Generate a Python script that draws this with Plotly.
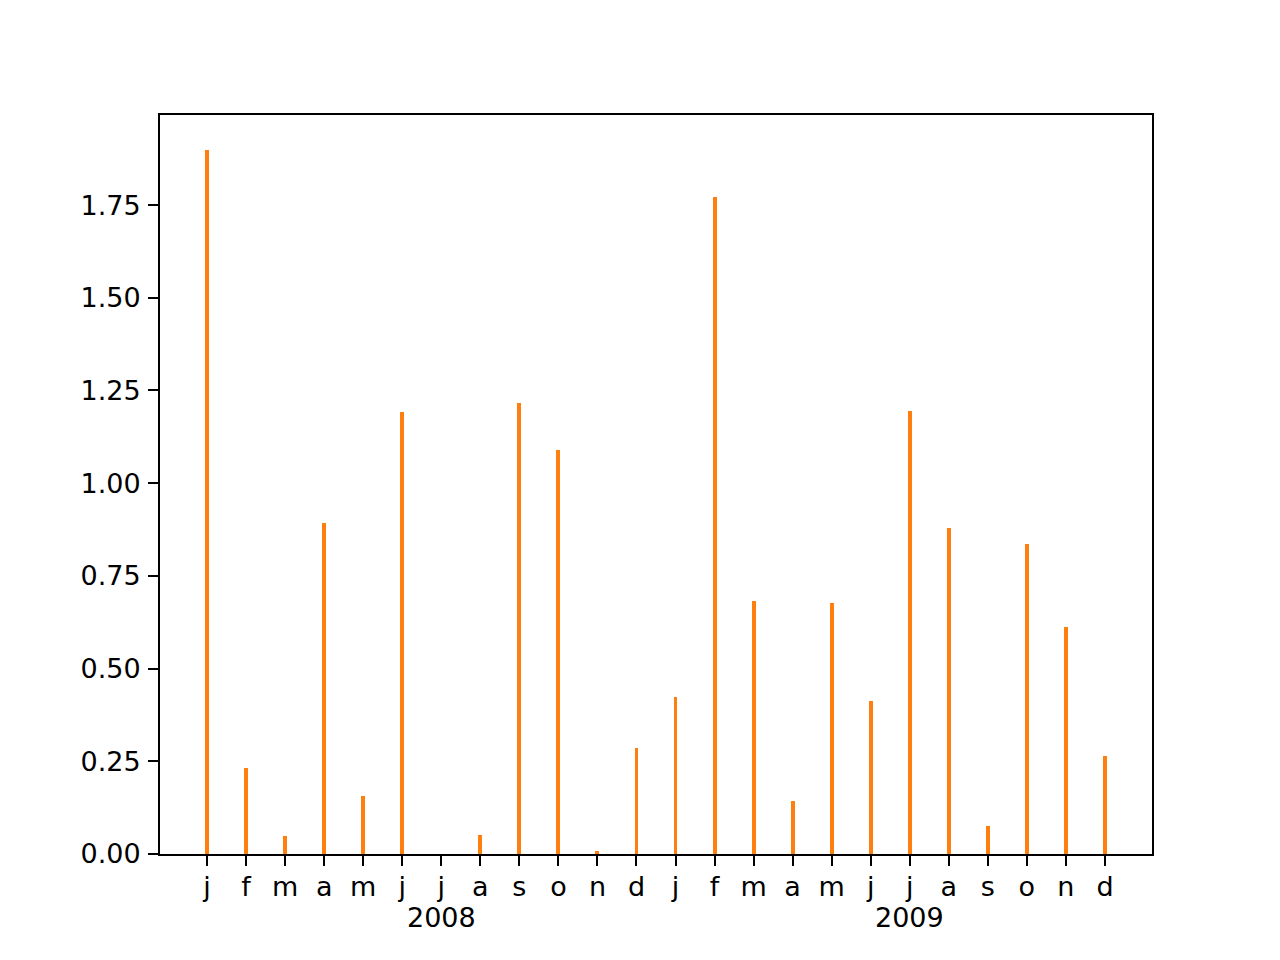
import plotly.graph_objects as go

months = ["j", "f", "m", "a", "m", "j", "j", "a", "s", "o", "n", "d",
          "j", "f", "m", "a", "m", "j", "j", "a", "s", "o", "n", "d"]
year_pos = [6, 18]
year_labels = ["2008", "2009"]
values = [1.898, 0.232, 0.048, 0.892, 0.156, 1.192, 0.0, 0.051, 1.216, 1.089, 0.008, 0.286,
          0.423, 1.772, 0.682, 0.143, 0.677, 0.413, 1.195, 0.879, 0.075, 0.836, 0.612, 0.264]

idx = list(range(len(values)))
bar_w = 0.1

fig = go.Figure(go.Bar(x=idx, y=values, width=bar_w, marker=dict(color="#ff7f0e", line=dict(width=0))))

lo, hi = -bar_w / 2, len(values) - 1 + bar_w / 2
pad = (hi - lo) * 0.05
ymax = max(values) * 1.05

font = dict(family="DejaVu Sans", size=27, color="black")
fig.update_layout(
    width=1272, height=952,
    margin=dict(l=152, r=128, t=107, b=106, pad=0),
    plot_bgcolor="white", paper_bgcolor="white",
    font=font, showlegend=False, bargap=0,
)
for pos, lab in zip(year_pos, year_labels):
    fig.add_annotation(x=pos, y=0, xref="x", yref="y", text=lab, showarrow=False,
                       yanchor="middle", xanchor="center", yshift=-63, font=font)

fig.update_xaxes(range=[lo - pad, hi + pad], tickmode="array", tickvals=idx, ticktext=months,
                 tickangle=0, automargin=False,
                 showgrid=False, zeroline=False, showline=True, linecolor="black", linewidth=2,
                 mirror=True, ticks="outside", ticklen=10, tickwidth=2, tickcolor="black",
                 ticklabelstandoff=-2, tickfont=font)
fig.update_yaxes(range=[0, ymax], tickmode="array", tickvals=[0, 0.25, 0.5, 0.75, 1.0, 1.25, 1.5, 1.75],
                 tickformat=".2f", automargin=False,
                 showgrid=False, zeroline=False, showline=True, linecolor="black",
                 linewidth=2, mirror=True, ticks="outside", ticklen=10, tickwidth=2, tickcolor="black",
                 ticklabelstandoff=2, tickfont=font)

fig.write_html("out.html")
